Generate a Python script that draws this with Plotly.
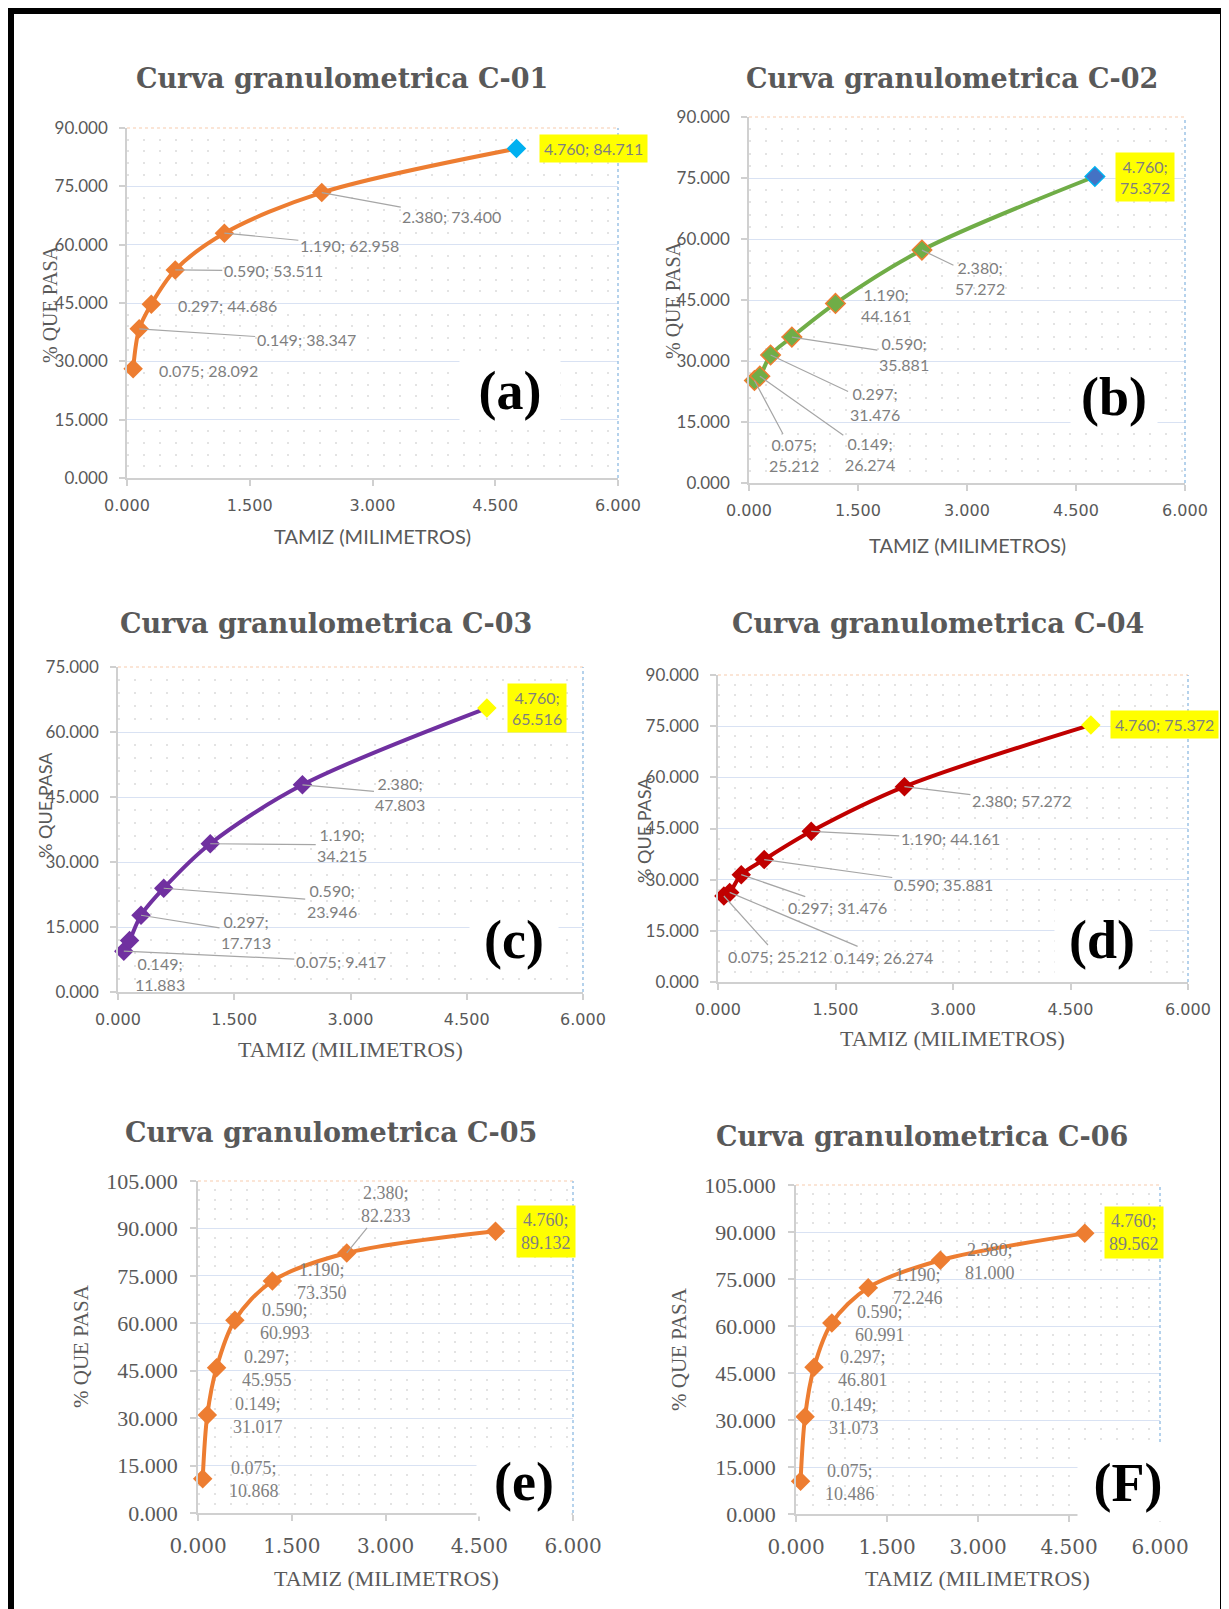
import plotly.graph_objects as go

# ---------------- data ----------------
SIEVE_MM = [0.075, 0.149, 0.297, 0.590, 1.190, 2.380, 4.760]
PASS_C01 = [28.092, 38.347, 44.686, 53.511, 62.958, 73.400, 84.711]
PASS_C02 = [25.212, 26.274, 31.476, 35.881, 44.161, 57.272, 75.372]
PASS_C03 = [9.417, 11.883, 17.713, 23.946, 34.215, 47.803, 65.516]
PASS_C04 = [25.212, 26.274, 31.476, 35.881, 44.161, 57.272, 75.372]
PASS_C05 = [10.868, 31.017, 45.955, 60.993, 73.350, 82.233, 89.132]
PASS_C06 = [10.486, 31.073, 46.801, 60.991, 72.246, 81.000, 89.562]
TITLES = ["Curva granulometrica C-01", "Curva granulometrica C-02",
          "Curva granulometrica C-03", "Curva granulometrica C-04",
          "Curva granulometrica C-05", "Curva granulometrica C-06"]
TAGS = ["(a)", "(b)", "(c)", "(d)", "(e)", "(F)"]
Y_MAX = [90, 90, 75, 90, 105, 105]
Y_STEP = 15
X_TICKS = [0, 1.5, 3.0, 4.5, 6.0]
X_TITLE = "TAMIZ (MILIMETROS)"
Y_TITLE = "% QUE PASA"

# ---------------- layout / style ----------------
PAGE_W, PAGE_H = 1229, 1609
OFF = 8  # page body margin in the browser
W, H = PAGE_W - OFF, PAGE_H - OFF


def px(x):
    return (x - OFF) / W


def py(y):
    return 1 - (y - OFF) / H


GRAY = "#595959"
LBL = "#7F7F7F"
AXIS = "#D0D0D0"
GRID = "#D9E2F3"
DOTS = "#E3E3E3"
ORANGE = "#ED7D31"

SANS = "Lato"
SERIF = "Liberation Serif"

f_ytick_sans = dict(family=SANS, size=17, color=GRAY)
f_xtick_sans = dict(family="DejaVu Sans", size=16, color=GRAY)
f_ytick_serif = dict(family=SERIF, size=22, color=GRAY)
f_xtick_serif = dict(family="DejaVu Serif", size=20, color=GRAY)
f_lbl_sans = dict(family=SANS, size=16, color=LBL)
f_lbl_serif = dict(family=SERIF, size=18, color=LBL)

# label placement: (dx px, dy px (down), leader line, two lines)
STYLE = [
    dict(values=PASS_C01, box=(127, 618, 128, 478), line=ORANGE, mfill=ORANGE, mline=ORANGE, mlw=0,
         lastfill="#00B0F0", lastline="#00B0F0",
         xtf=f_xtick_sans, ytf=f_ytick_sans, lblf=f_lbl_sans,
         xtitle=(372, 536, dict(family=SANS, size=20, color=GRAY)),
         ytitle=(50, 304, dict(family=SERIF, size=20, color=GRAY)),
         title=(342, 79), tag=(510, 391, 100, 64),
         labels=[(75, 2, False, False), (167, 11, True, False), (76, 1, False, False),
                 (98, 1, True, False), (125, 12, True, False), (130, 24, True, False),
                 (77, 0, False, False)]),
    dict(values=PASS_C02, box=(749, 1185, 117, 483), line="#70AD47", mfill="#70AD47", mline=ORANGE, mlw=1.5,
         lastfill="#4472C4", lastline="#00B0F0",
         xtf=f_xtick_sans, ytf=f_ytick_sans, lblf=f_lbl_sans,
         xtitle=(967, 545, dict(family=SANS, size=20, color=GRAY)),
         ytitle=(673, 300, dict(family=SERIF, size=20, color=GRAY)),
         title=(952, 79), tag=(1114, 397, 86, 64),
         labels=[(40, 75, True, True), (110, 78, True, True), (104, 49, True, True),
                 (112, 17, True, True), (51, 2, False, True), (58, 28, True, True),
                 (50, 1, False, True)]),
    dict(values=PASS_C03, box=(118, 583, 667, 992), line="#7030A0", mfill="#7030A0", mline="#7030A0", mlw=0,
         lastfill="#FFFF00", lastline="#FFFF00",
         xtf=f_xtick_sans, ytf=f_ytick_sans, lblf=f_lbl_sans,
         xtitle=(350, 1049, dict(family=SERIF, size=22, color=GRAY)),
         ytitle=(45, 805, dict(family=SANS, size=18, color=GRAY)),
         title=(326, 623), tag=(514, 940, 88, 66),
         labels=[(217, 10, True, False), (30, 33, False, True), (105, 17, True, True),
                 (168, 13, True, True), (132, 1, True, True), (98, 9, True, True),
                 (50, 0, False, True)]),
    dict(values=PASS_C04, box=(718, 1188, 675, 982), line="#C00000", mfill="#C00000", mline="#C00000", mlw=0,
         lastfill="#FFFF00", lastline="#FFFF00",
         xtf=f_xtick_sans, ytf=f_ytick_sans, lblf=f_lbl_sans,
         xtitle=(952, 1038, dict(family=SERIF, size=22, color=GRAY)),
         ytitle=(644, 830, dict(family=SANS, size=18, color=GRAY)),
         title=(938, 623), tag=(1102, 940, 94, 66),
         labels=[(54, 60, True, False), (154, 65, True, False), (96, 33, True, False),
                 (179, 25, True, False), (139, 7, True, False), (117, 14, True, False),
                 (74, 0, False, False)]),
    dict(values=PASS_C05, box=(198, 573, 1181, 1513), line=ORANGE, mfill=ORANGE, mline=ORANGE, mlw=0,
         lastfill=ORANGE, lastline=ORANGE,
         xtf=f_xtick_serif, ytf=f_ytick_serif, lblf=f_lbl_serif,
         xtitle=(386, 1578, dict(family=SERIF, size=22, color=GRAY)),
         ytitle=(81, 1346, dict(family=SERIF, size=21, color=GRAY)),
         title=(331, 1132), tag=(524, 1482, 94, 68),
         labels=[(51, 1, False, True), (51, 1, False, True), (50, 1, False, True),
                 (50, 1, False, True), (50, 0, False, True), (39, -48, True, True),
                 (50, 0, False, True)]),
    dict(values=PASS_C06, box=(796, 1160, 1185, 1514), line=ORANGE, mfill=ORANGE, mline=ORANGE, mlw=0,
         lastfill=ORANGE, lastline=ORANGE,
         xtf=f_xtick_serif, ytf=f_ytick_serif, lblf=f_lbl_serif,
         xtitle=(977, 1578, dict(family=SERIF, size=22, color=GRAY)),
         ytitle=(679, 1349, dict(family=SERIF, size=21, color=GRAY)),
         title=(922, 1136), tag=(1128, 1483, 100, 76),
         labels=[(49, 1, False, True), (49, 0, False, True), (49, 1, False, True),
                 (48, 1, False, True), (50, -1, False, True), (50, 1, False, True),
                 (49, -1, False, True)]),
]

fig = go.Figure()
axes = {}
annotations = []
shapes = []
n_pts = len(SIEVE_MM)

for i, st in enumerate(STYLE):
    n = "" if i == 0 else str(i + 1)
    xr, yr = "x" + n, "y" + n
    x0, x1, y0, y1 = st["box"]
    vals = st["values"]

    fig.add_trace(go.Scatter(
        x=SIEVE_MM, y=vals, xaxis=xr, yaxis=yr, mode="lines+markers",
        line=dict(color=st["line"], width=4, shape="spline", smoothing=0.9),
        marker=dict(symbol="diamond", size=15,
                    color=[st["mfill"]] * (n_pts - 1) + [st["lastfill"]],
                    line=dict(color=[st["mline"]] * (n_pts - 1) + [st["lastline"]],
                              width=st["mlw"] if st["mlw"] else 0)),
        showlegend=False, cliponaxis=False,
    ))

    big = i >= 4
    axes["xaxis" + n] = dict(
        domain=[px(x0), px(x1)], anchor=yr, range=[0, 6], tickvals=X_TICKS, tickformat=".3f",
        showline=True, linecolor=AXIS, linewidth=1.5, ticks="outside", ticklen=6,
        tickcolor=AXIS, tickwidth=1.5, showgrid=False, zeroline=False, automargin=False,
        tickfont=st["xtf"], ticklabelstandoff=8 if big else 6, fixedrange=True)
    axes["yaxis" + n] = dict(
        domain=[py(y1), py(y0)], anchor=xr, range=[0, Y_MAX[i]], dtick=Y_STEP, tickformat=".3f",
        showline=True, linecolor=AXIS, linewidth=1.5, ticks="outside", ticklen=6,
        tickcolor=AXIS, tickwidth=1.5, zeroline=False, automargin=False,
        showgrid=True, gridcolor=GRID, gridwidth=1,
        minor=dict(dtick=3, showgrid=True, gridcolor=DOTS, griddash="2px,14px", gridwidth=1.5),
        tickfont=st["ytf"], ticklabelstandoff=8, fixedrange=True)

    # plot-area border decorations
    shapes.append(dict(type="line", xref=xr + " domain", yref=yr + " domain", x0=0, x1=1, y0=1, y1=1,
                       line=dict(color="white", width=2), layer="above"))
    shapes.append(dict(type="line", xref=xr + " domain", yref=yr + " domain", x0=0, x1=1, y0=1, y1=1,
                       line=dict(color="#F8CBAD", width=1.2, dash="dot"), layer="above"))
    shapes.append(dict(type="line", xref=xr + " domain", yref=yr + " domain", x0=1, x1=1, y0=0, y1=1,
                       line=dict(color="#9DC3E6", width=1.5, dash="dot"), layer="above"))

    # data labels
    for j, (xv, yv) in enumerate(zip(SIEVE_MM, vals)):
        dx, dy, leader, two = st["labels"][j]
        txt = f"{xv:.3f};{'<br>' if two else ' '}{yv:.3f}"
        ann = dict(x=xv, y=yv, xref=xr, yref=yr, text=txt, font=st["lblf"], align="center")
        if j == n_pts - 1:
            ann.update(bgcolor="#FFFF00", borderpad=4)
        if leader:
            ann.update(showarrow=True, ax=dx, ay=dy, arrowhead=0, arrowwidth=1.2,
                       arrowcolor="#A6A6A6", standoff=0)
        else:
            ann.update(showarrow=False, xshift=dx, yshift=-dy, xanchor="center", yanchor="middle")
        annotations.append(ann)

    # chart title
    tx, ty = st["title"]
    annotations.append(dict(x=px(tx), y=py(ty), xref="paper", yref="paper", showarrow=False,
                            text=TITLES[i], xanchor="center", yanchor="middle",
                            font=dict(family="DejaVu Serif", size=27, color=GRAY, weight=700)))
    # axis titles
    ax_, ay_, af = st["xtitle"]
    annotations.append(dict(x=px(ax_), y=py(ay_), xref="paper", yref="paper", showarrow=False,
                            text=X_TITLE, xanchor="center", yanchor="middle", font=af))
    bx_, by_, bf = st["ytitle"]
    annotations.append(dict(x=px(bx_), y=py(by_), xref="paper", yref="paper", showarrow=False,
                            text=Y_TITLE, textangle=-90, xanchor="center", yanchor="middle", font=bf))
    # panel tag
    gx, gy, gw, gh = st["tag"]
    annotations.append(dict(x=px(gx), y=py(gy), xref="paper", yref="paper", showarrow=False,
                            text=TAGS[i], xanchor="center", yanchor="middle", width=gw, height=gh,
                            bgcolor="white", borderpad=0, valign="middle",
                            font=dict(family=SERIF, size=54, color="black", weight=700)))

# outer black frame (open at the bottom)
for (a0, a1, b0, b1) in [(7, 14, 6, 1609), (7, 1229, 6, 14), (1220, 1229, 6, 1609)]:
    shapes.append(dict(type="rect", xref="paper", yref="paper", x0=px(a0), x1=px(a1),
                       y0=py(b1), y1=py(b0), fillcolor="black", line=dict(width=0), layer="above"))

fig.update_layout(
    template="none",
    width=W, height=H, margin=dict(l=0, r=0, t=0, b=0, pad=0), autosize=False,
    paper_bgcolor="white", plot_bgcolor="white", showlegend=False,
    annotations=annotations, shapes=shapes, **axes)

fig.write_html("out.html")
